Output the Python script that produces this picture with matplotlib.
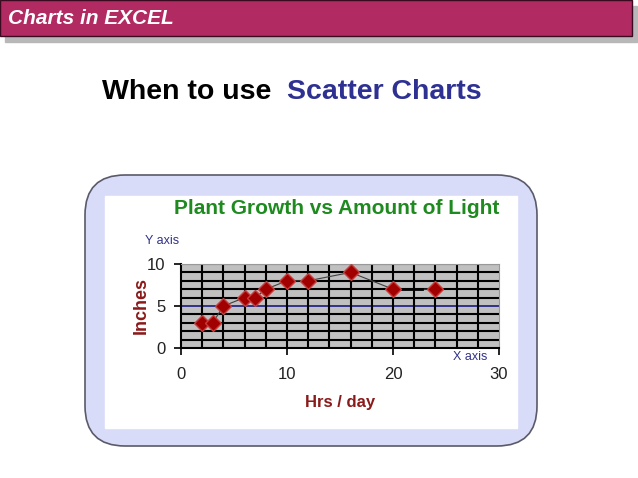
import matplotlib.pyplot as plt
import numpy as np
from matplotlib.patches import Rectangle, FancyBboxPatch

plt.rcParams['font.family'] = ['Liberation Sans', 'DejaVu Sans']

# data
hrs = [2, 3, 4, 6, 7, 8, 10, 12, 16, 20, 24]
inches = [3, 3, 5, 6, 6, 7, 8, 8, 9, 7, 7]
# short thick dash drawn after the point at 20
dash_x = [20, 22.7]
dash_y = [7, 7]
x_ticks = [0, 10, 20, 30]
y_ticks = [0, 5, 10]

fig = plt.figure(figsize=(6.38, 4.78), dpi=100)

# background layer in pixel coordinates
bg = fig.add_axes([0, 0, 1, 1])
bg.set_xlim(0, 638)
bg.set_ylim(478, 0)
bg.axis('off')

# header bar with shadow
bg.add_patch(Rectangle((5, 6), 632, 36, color='#b8b8b8', zorder=1))
bg.add_patch(Rectangle((0, 0), 632, 36, facecolor='#b12a62', edgecolor='#3a0a20', lw=1, zorder=2))
bg.text(8, 18, 'Charts in EXCEL', color='white', fontsize=15, fontweight='bold',
        fontstyle='italic', va='center', ha='left', zorder=3)

# slide title
t1 = bg.text(102, 92, 'When to use  ', color='black', fontsize=20.5, fontweight='bold',
             va='center', ha='left')
fig.canvas.draw()
x2 = t1.get_window_extent().x1
bg.annotate('Scatter Charts', xy=(x2, 478 - 92), xycoords='figure pixels', color='#2e3192',
            fontsize=20.5, fontweight='bold', va='center', ha='left')

# rounded frame and white chart area
bg.add_patch(FancyBboxPatch((85 + 40, 175 + 40), 452 - 80, 271 - 80,
                            boxstyle='round,pad=40', facecolor='#d9dcf8',
                            edgecolor='#5a5a6a', lw=1.2, zorder=1))
bg.add_patch(Rectangle((105, 196), 412, 232, color='white', zorder=2))

bg.text(337, 208, 'Plant Growth vs Amount of Light', color='#1f8a1f', fontsize=15,
        fontweight='bold', ha='center', va='center', zorder=3)
bg.text(145, 241, 'Y axis', color='#333388', fontsize=9, ha='left', va='center', zorder=3)
bg.text(453, 357, 'X axis', color='#333388', fontsize=9, ha='left', va='center', zorder=3)
bg.text(141, 305, 'Inches', color='#8b1a1a', fontsize=13, fontweight='bold',
        rotation=90, ha='center', va='center', zorder=3)
bg.text(340, 403, 'Hrs / day', color='#8b1a1a', fontsize=12, fontweight='bold',
        ha='center', va='center', zorder=3)

# chart
ax = fig.add_axes([181 / 638, 1 - 348 / 478, 318 / 638, 84 / 478])
ax.set_facecolor('#c0c0c0')
ax.set_xlim(0, 30)
ax.set_ylim(0, 10)

for yv in range(1, 10):
    if yv == 5:
        ax.axhline(yv, color='#1a1a80', lw=1.2, zorder=1)
    else:
        ax.axhline(yv, color='black', lw=1.5, zorder=1)
for xv in range(2, 30, 2):
    ax.axvline(xv, color='black', lw=1.5, zorder=1)
ax.axhline(10, color='#555555', lw=1.5, zorder=1)

ax.plot(hrs, inches, color='#404040', lw=0.8, zorder=2)
ax.plot(dash_x, dash_y, color='black', lw=2, zorder=2)
ax.plot(hrs, inches, linestyle='none', marker='D', markersize=8.5,
        markerfacecolor='#a00000', markeredgecolor='#c83c3c', markeredgewidth=1, zorder=3)

for s in ['top', 'right']:
    ax.spines[s].set_color('#999999')
    ax.spines[s].set_linewidth(0.8)
ax.spines['left'].set_color('black')
ax.spines['bottom'].set_color('black')
ax.spines['left'].set_linewidth(1.5)
ax.spines['bottom'].set_linewidth(1.5)

ax.set_xticks(x_ticks)
ax.set_yticks(y_ticks)
ax.tick_params(axis='both', direction='out', length=5, width=1.2, colors='black',
               labelsize=12, labelcolor='#222222')
ax.tick_params(axis='x', pad=9)
ax.tick_params(axis='y', pad=6)

fig.savefig('out.png', dpi=100)
